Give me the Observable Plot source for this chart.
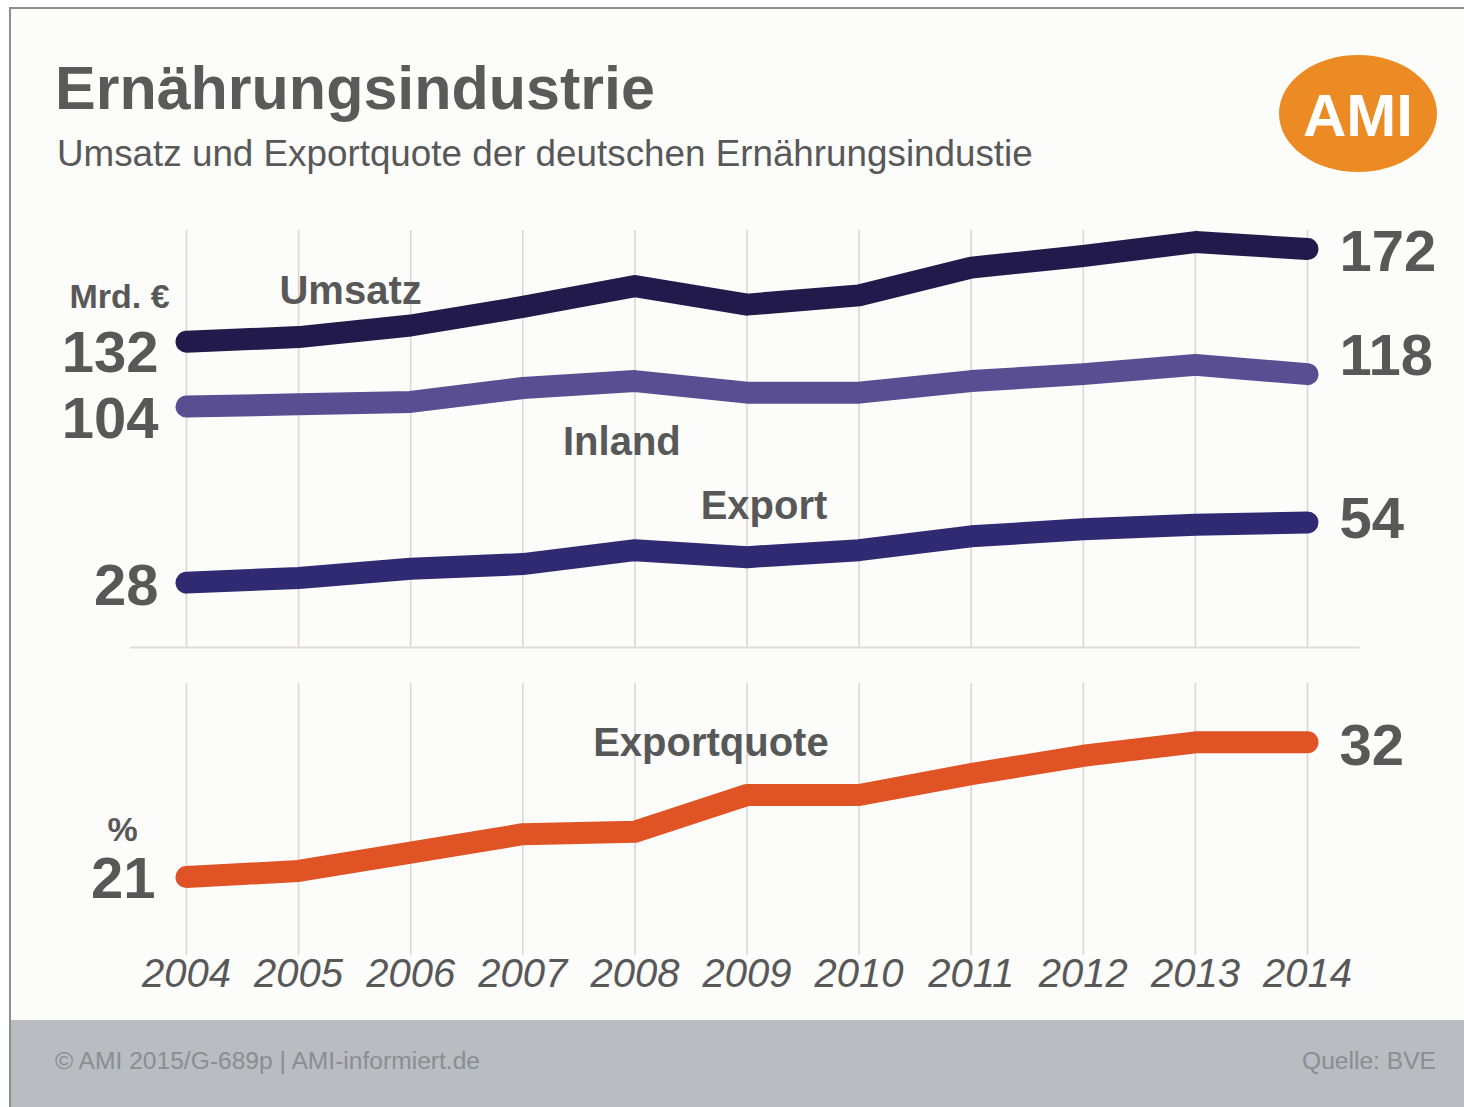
<!DOCTYPE html>
<html>
<head>
<meta charset="utf-8">
<script src="https://cdn.jsdelivr.net/npm/d3@7"></script>
<script src="https://cdn.jsdelivr.net/npm/@observablehq/plot@0.6"></script>
<style>
  body { margin: 0; background: #fff; font-family: "Liberation Sans", Arial, sans-serif; }
  #page { position: relative; width: 1464px; height: 1107px; overflow: hidden; background: #fff; }
  #card { position: absolute; left: 9px; top: 7px; width: 1460px; height: 1105px;
          border-top: 2px solid #8e8e8e; border-left: 2px solid #8e8e8e; background: #fcfcfa; }
  #footer { position: absolute; left: 11px; top: 1020px; width: 1460px; height: 90px; background: #b9bcc1; }
  .txt { position: absolute; white-space: nowrap; line-height: 1; }
  #title { left: 55px; top: 58px; font-size: 61px; font-weight: bold; color: #5a5a5a; }
  #subtitle { left: 57px; top: 136px; font-size: 36.8px; color: #585858; }
  #logo { position: absolute; left: 1279px; top: 55px; width: 158px; height: 117px; border-radius: 50%; background: #ec8a24; }
  #logotxt { left: 1279px; width: 158px; text-align: center; top: 86px; font-size: 60px; font-weight: bold; color: #fff; }
  #foot1 { left: 55px; top: 1049px; font-size: 24.6px; color: #8b8d92; }
  #foot2 { right: 28px; top: 1049px; font-size: 24.6px; color: #8b8d92; }
  #top { position: absolute; left: 0; top: 200px; }
  #bottom { position: absolute; left: 0; top: 670px; }
</style>
</head>
<body>
<div id="page">
  <div id="card"></div>
  <div class="txt" id="title">Ernährungsindustrie</div>
  <div class="txt" id="subtitle">Umsatz und Exportquote der deutschen Ernährungsindustie</div>
  <div id="logo"></div>
  <div class="txt" id="logotxt">AMI</div>
  <div id="top"></div>
  <div id="bottom"></div>
  <div id="footer"></div>
  <div class="txt" id="foot1">© AMI 2015/G-689p | AMI-informiert.de</div>
  <div class="txt" id="foot2">Quelle: BVE</div>
</div>
<script>
// ---- data ----
const years = [2004, 2005, 2006, 2007, 2008, 2009, 2010, 2011, 2012, 2013, 2014];
const umsatz = [132, 134, 139, 147, 156, 148, 152, 164, 169, 175, 172];   // Mrd. €
const inland = [104, 105, 106, 112, 115, 110, 110, 115, 118, 122, 118];   // Mrd. €
const exportMrd = [28, 30, 34, 36, 42, 39, 42, 48, 51, 53, 54];           // Mrd. €
const exportquote = [21, 21.5, 23, 24.5, 24.7, 27.7, 27.7, 29.4, 30.9, 32, 32]; // %
const seriesNames = ["Umsatz", "Inland", "Export", "Exportquote"];
const unitTop = "Mrd. €";
const unitBottom = "%";

const toRows = (vals) => years.map((year, i) => ({year, value: vals[i]}));
const rU = toRows(umsatz), rI = toRows(inland), rE = toRows(exportMrd), rQ = toRows(exportquote);
const first = (r) => [r[0]];
const last = (r) => [r[r.length - 1]];

const FONT = "'Liberation Sans', Arial, sans-serif";
const GREY = "#585858";
const GRID = "#dcd6d6";
const C = {U: "#231a4c", I: "#5a4e93", E: "#2f2a72", Q: "#df5324"};
const lineOpts = {x: "year", y: "value", strokeWidth: 22, curve: "linear", strokeLinecap: "round", strokeLinejoin: "round"};
const num = {x: "year", y: "value", text: d => String(d.value), fontSize: 58, fontWeight: "bold", fill: GREY};
const lab = {x: "year", y: "value", fontSize: 40, fontWeight: "bold", fill: GREY};

const topPlot = Plot.plot({
  width: 1464, height: 470,
  marginLeft: 186, marginRight: 157, marginTop: 30, marginBottom: 23,
  x: {domain: [2004, 2014], axis: null},
  y: {domain: [0, 180], axis: null},
  style: {background: "transparent", fontFamily: FONT, overflow: "visible"},
  marks: [
    Plot.ruleX(years, {stroke: GRID, strokeWidth: 1.6}),
    Plot.ruleY([0], {x1: 2003.5, x2: 2014.47, stroke: "#e0dcdc", strokeWidth: 2}),
    Plot.line(rI, {...lineOpts, stroke: C.I}),
    Plot.line(rE, {...lineOpts, stroke: C.E}),
    Plot.line(rU, {...lineOpts, stroke: C.U}),
    // value labels
    Plot.text(first(rU), {...num, textAnchor: "end", dx: -28, dy: 12}),
    Plot.text(first(rI), {...num, textAnchor: "end", dx: -28, dy: 13}),
    Plot.text(first(rE), {...num, textAnchor: "end", dx: -28, dy: 4}),
    Plot.text(last(rU), {...num, textAnchor: "start", dx: 32, dy: 3}),
    Plot.text(last(rI), {...num, textAnchor: "start", dx: 32, dy: -18}),
    Plot.text(last(rE), {...num, textAnchor: "start", dx: 32, dy: -3}),
    // unit
    Plot.text(first(rU), {x: "year", y: "value", text: () => unitTop, fontSize: 34, fontWeight: "bold", fill: GREY, dx: -67, dy: -45}),
    // series labels
    Plot.text([rU[1]], {...lab, text: () => seriesNames[0], dx: 52, dy: -46}),
    Plot.text([rI[4]], {...lab, text: () => seriesNames[1], dx: -13, dy: 61}),
    Plot.text([rE[5]], {...lab, text: () => seriesNames[2], dx: 17, dy: -51})
  ]
});
document.getElementById("top").appendChild(topPlot);

const bottomPlot = Plot.plot({
  width: 1464, height: 340,
  marginLeft: 186, marginRight: 157, marginTop: 13, marginBottom: 55,
  x: {domain: [2004, 2014]},
  y: {domain: [14.6, 36.8], axis: null},
  style: {background: "transparent", fontFamily: FONT, overflow: "visible"},
  marks: [
    Plot.ruleX(years, {stroke: GRID, strokeWidth: 1.6}),
    Plot.axisX({ticks: years, tickFormat: d => String(d), tickSize: 0, tickPadding: 3,
                fontSize: 40, fontStyle: "italic", fill: GREY, label: null}),
    Plot.line(rQ, {...lineOpts, stroke: C.Q}),
    Plot.text(first(rQ), {...num, textAnchor: "end", dx: -31, dy: 2}),
    Plot.text(last(rQ), {...num, textAnchor: "start", dx: 32, dy: 4}),
    Plot.text(first(rQ), {x: "year", y: "value", text: () => unitBottom, fontSize: 34, fontWeight: "bold", fill: GREY, dx: -64, dy: -47}),
    Plot.text([rQ[4]], {...lab, text: () => seriesNames[3], dx: 76, dy: -89})
  ]
});
document.getElementById("bottom").appendChild(bottomPlot);
</script>
</body>
</html>
